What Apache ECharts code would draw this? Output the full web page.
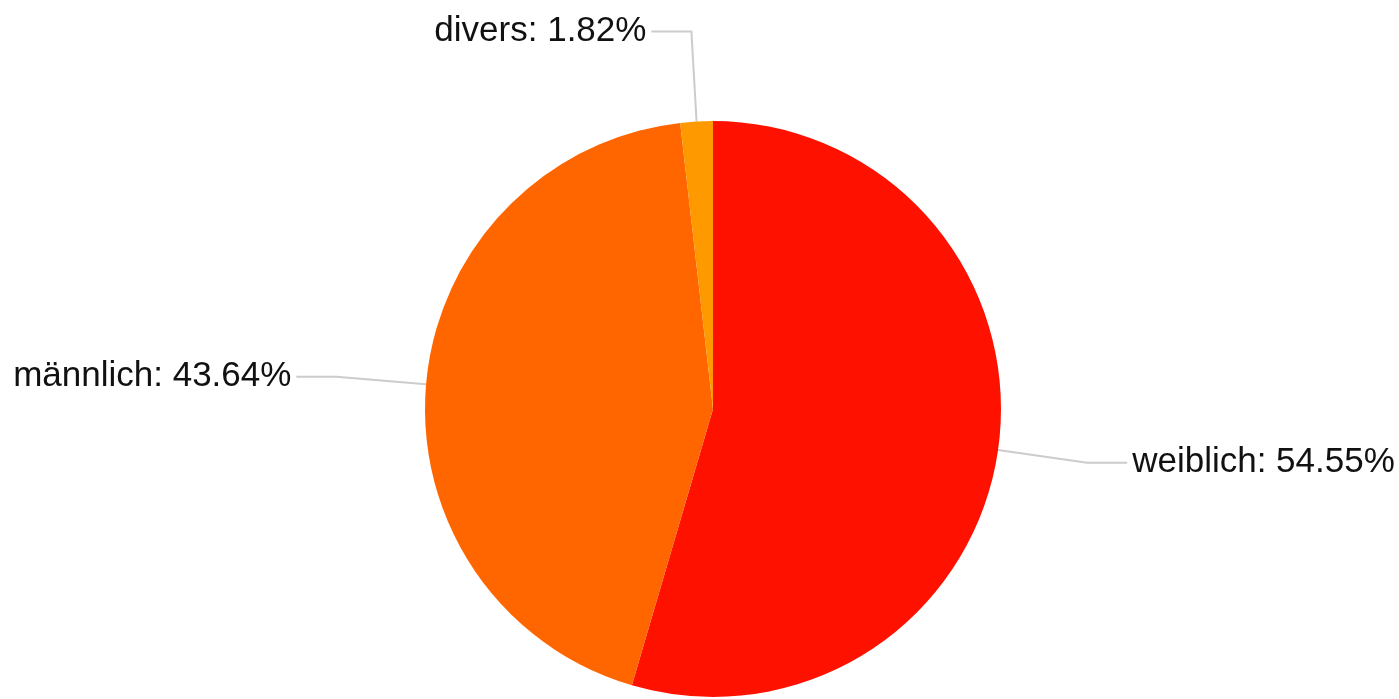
<!DOCTYPE html>
<html>
<head>
<meta charset="utf-8">
<script src="https://cdn.jsdelivr.net/npm/echarts@6/dist/echarts.min.js"></script>
<style>html,body{margin:0;padding:0;background:#fff}#c{width:1399px;height:699px}</style>
</head>
<body>
<div id="c"></div>
<script>
const categories = ['weiblich', 'männlich', 'divers'];
const values = [30, 24, 1];
const colors = ['#FF1100', '#FF6600', '#FF9900'];
const total = values.reduce((a, b) => a + b, 0);

const chart = echarts.init(document.getElementById('c'));
chart.setOption({
  animation: false,
  series: [{
    type: 'pie',
    center: [713, 409],
    radius: [0, 288],
    startAngle: 90,
    clockwise: true,
    avoidLabelOverlap: false,
    data: categories.map((c, i) => ({ name: c, value: values[i], itemStyle: { color: colors[i] } })),
    label: {
      show: true,
      formatter: p => p.name + ': ' + (p.value / total * 100).toFixed(2) + '%',
      fontFamily: 'Liberation Sans, Arial, sans-serif',
      fontSize: 35,
      color: '#111'
    },
    labelLine: {
      show: true,
      length: 90,
      length2: 40,
      lineStyle: { color: '#cccccc', width: 2 }
    }
  }]
});
</script>
</body>
</html>
